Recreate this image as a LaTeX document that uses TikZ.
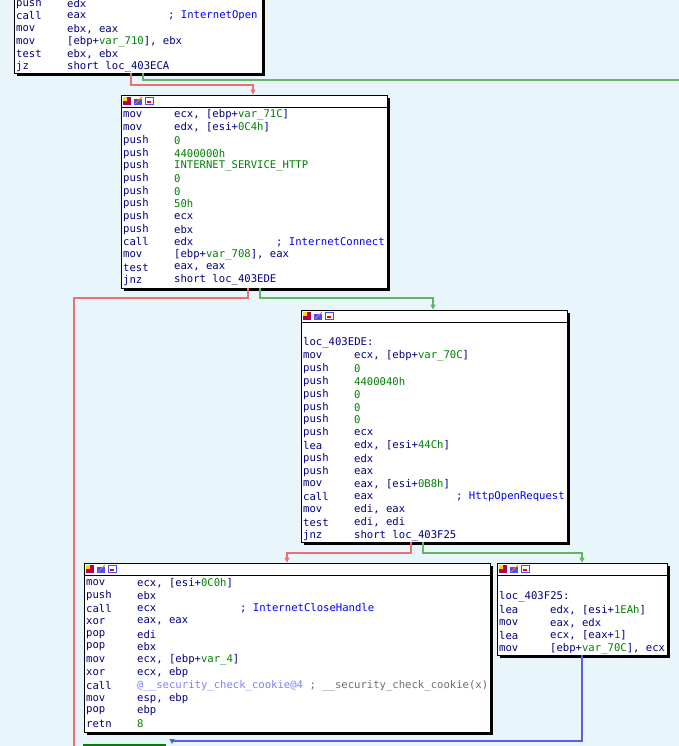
\documentclass[tikz,border=0pt]{standalone}
\usepackage{fontspec}
\setmonofont{DejaVu Sans Mono}
\usetikzlibrary{arrows.meta,calc}
\definecolor{bg}{RGB}{232,246,252}
\definecolor{nv}{RGB}{0,0,128}
\definecolor{gn}{RGB}{0,128,0}
\definecolor{bl}{RGB}{0,0,255}
\definecolor{lb}{RGB}{128,128,255}
\definecolor{gr}{RGB}{110,110,110}
\definecolor{ered}{RGB}{240,110,110}
\definecolor{egrn}{RGB}{100,180,100}
\definecolor{eblu}{RGB}{90,90,240}
\newcommand\gv[1]{\textcolor{gn}{#1}}
\newcommand\bv[1]{\textcolor{bl}{#1}}
\newcounter{lnc}
\newcommand\asm[4]{\stepcounter{lnc}%
 \node[txt] (m\thelnc) at (#1,#2) {#3};%
 \node[txt] (o\thelnc) at ($(#1,#2)+(51,0)$) {#4};}
\newcommand\cmt[3]{\stepcounter{lnc}\node[txt] (c\thelnc) at (#1,#2) {#3};}
\newcommand\blk[5]{% name, x1, y1, x2, y2
 \fill[black] ($(#2,#3)+(3,3)$) rectangle ($(#4,#5)+(3,3)$);
 \node[box,minimum width={#4-#2},minimum height={#5-#3}] (#1) at ({(#2+#4)/2},{(#3+#5)/2}) {};
 \draw[line width=0.9pt] (#2,#3+12) -- (#4,#3+12);
 \fill[red!70!blue] (#2+2,#3+2) rectangle (#2+10,#3+10);
 \fill[yellow!80!orange] (#2+2,#3+2) rectangle (#2+6,#3+6);
 \fill[blue!70] (#2+13,#3+4) rectangle (#2+21,#3+10);
 \draw[orange,line width=1pt] (#2+14,#3+9) -- (#2+21,#3+2);
 \draw[blue!70,line width=0.8pt] (#2+24,#3+2) rectangle (#2+32,#3+9);
 \fill[red] (#2+26,#3+6) rectangle (#2+30,#3+8);}
\begin{document}
\begin{tikzpicture}[x=1pt,y=-1pt,
 txt/.style={anchor=west,inner sep=0pt,font=\ttfamily\fontsize{10.6}{10.6}\selectfont,text=nv},
 box/.style={draw=black,fill=white,line width=0.9pt,inner sep=0pt},
 e/.style={line width=1.1pt,-{Triangle[length=5pt,width=5pt]}}]
\fill[bg] (0,0) rectangle (679,746);
\useasboundingbox (0,0) rectangle (679,746);
% box A
\fill[black] (17,-7) rectangle (265,76);
\node[box,minimum width=248,minimum height=83] (A) at (138,31.5) {};
\asm{16}{4}{push}{edx}
\asm{16}{16}{call}{eax}
\cmt{168}{16}{\bv{; InternetOpen}}
\asm{16}{29}{mov}{ebx, eax}
\asm{16}{42}{mov}{[ebp+\gv{var\_710}], ebx}
\asm{16}{54}{test}{ebx, ebx}
\asm{16}{67}{jz}{short loc\_403ECA}
% box B
\blk{B}{121}{95}{387}{288}
\asm{123}{115}{mov}{ecx, [ebp+\gv{var\_71C}]}
\asm{123}{127.7}{mov}{edx, [esi+\gv{0C4h}]}
\asm{123}{140.4}{push}{\gv{0}}
\asm{123}{153.1}{push}{\gv{4400000h}}
\asm{123}{165.8}{push}{\gv{INTERNET\_SERVICE\_HTTP}}
\asm{123}{178.5}{push}{\gv{0}}
\asm{123}{191.2}{push}{\gv{0}}
\asm{123}{203.9}{push}{\gv{50h}}
\asm{123}{216.6}{push}{ecx}
\asm{123}{229.3}{push}{ebx}
\asm{123}{242}{call}{edx}
\cmt{276}{242}{\bv{; InternetConnect}}
\asm{123}{254.7}{mov}{[ebp+\gv{var\_708}], eax}
\asm{123}{267.4}{test}{eax, eax}
\asm{123}{280.1}{jnz}{short loc\_403EDE}
% box C
\blk{C}{301}{310}{567}{542}
\cmt{303}{343}{loc\_403EDE:}
\asm{303}{356}{mov}{ecx, [ebp+\gv{var\_70C}]}
\asm{303}{368.8}{push}{\gv{0}}
\asm{303}{381.6}{push}{\gv{4400040h}}
\asm{303}{394.4}{push}{\gv{0}}
\asm{303}{407.2}{push}{\gv{0}}
\asm{303}{420}{push}{\gv{0}}
\asm{303}{432.8}{push}{ecx}
\asm{303}{445.6}{lea}{edx, [esi+\gv{44Ch}]}
\asm{303}{458.4}{push}{edx}
\asm{303}{471.2}{push}{eax}
\asm{303}{484}{mov}{eax, [esi+\gv{0B8h}]}
\asm{303}{496.8}{call}{eax}
\cmt{456}{496.8}{\bv{; HttpOpenRequest}}
\asm{303}{509.6}{mov}{edi, eax}
\asm{303}{522.4}{test}{edi, edi}
\asm{303}{535.2}{jnz}{short loc\_403F25}
% box D
\blk{D}{84}{563}{490}{732}
\asm{86}{583}{mov}{ecx, [esi+\gv{0C0h}]}
\asm{86}{595.8}{push}{ebx}
\asm{86}{608.6}{call}{ecx}
\cmt{240}{608.6}{\bv{; InternetCloseHandle}}
\asm{86}{621.4}{xor}{eax, eax}
\asm{86}{634.2}{pop}{edi}
\asm{86}{647}{pop}{ebx}
\asm{86}{659.8}{mov}{ecx, [ebp+\gv{var\_4}]}
\asm{86}{672.6}{xor}{ecx, ebp}
\asm{86}{685.4}{call}{\textcolor{lb}{@\_\_security\_check\_cookie@4} \textcolor{gr}{; \_\_security\_check\_cookie(x)}}
\asm{86}{698.2}{mov}{esp, ebp}
\asm{86}{711}{pop}{ebp}
\asm{86}{723.8}{retn}{\gv{8}}
% box E
\blk{E}{497}{563}{667}{655}
\cmt{499}{597}{loc\_403F25:}
\asm{499}{610}{lea}{edx, [esi+\gv{1EAh}]}
\asm{499}{622.8}{mov}{eax, edx}
\asm{499}{635.6}{lea}{ecx, [eax+\gv{1}]}
\asm{499}{648.4}{mov}{[ebp+\gv{var\_70C}], ecx}
% bottom partial box
\draw[gn,line width=2pt] (84,750) -- (84,745) -- (165,745) -- (165,750);
\coordinate (F) at (172,744);
\coordinate (R) at (74,746);
\coordinate (G) at (679,80);
% edges
\draw[e,ered] (131,73) |- (253,85) -- (B.north -| 253,0);
\draw[line width=1.1pt,egrn] (143,73) |- (G);
\draw[line width=1.1pt,ered] (248,288) |- (74,298) -- (R);
\draw[e,egrn] (260,288) |- (433,298) -- (C.north -| 433,0);
\draw[e,ered] (411,542) |- (287,553) -- (D.north -| 287,0);
\draw[e,egrn] (423,542) |- (582,553) -- (E.north -| 582,0);
\draw[e,eblu] (582,655) |- (172,741) -- (F);
\end{tikzpicture}
\end{document}
